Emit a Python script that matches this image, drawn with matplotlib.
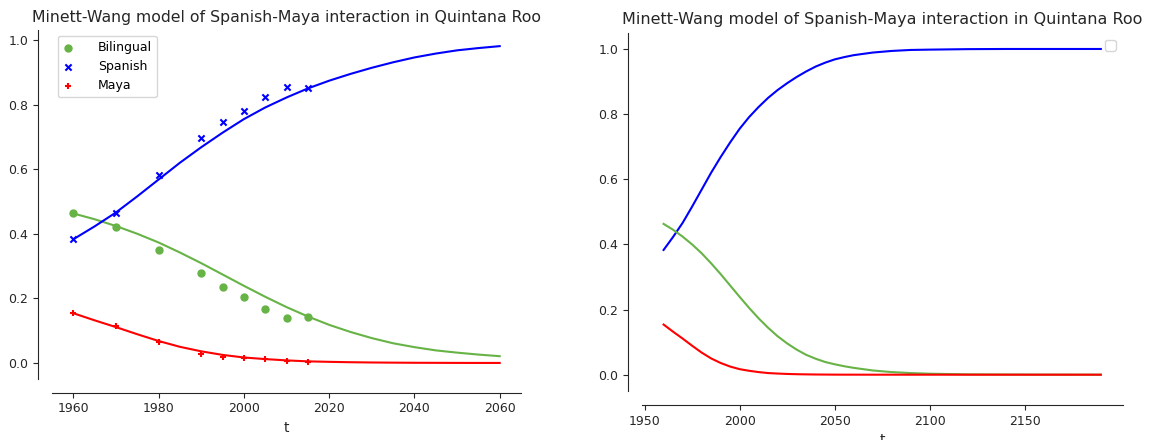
import matplotlib
matplotlib.use("Agg")
import matplotlib.pyplot as plt
import numpy as np

# ---- observed data (census years) ----
years_obs = [1960, 1970, 1980, 1990, 1995, 2000, 2005, 2010, 2015]
bilingual_obs = [0.464, 0.421, 0.350, 0.279, 0.235, 0.204, 0.167, 0.139, 0.142]
spanish_obs = [0.384, 0.464, 0.582, 0.697, 0.746, 0.780, 0.824, 0.854, 0.851]
maya_obs = [0.155, 0.115, 0.065, 0.028, 0.019, 0.015, 0.012, 0.006, 0.003]

# ---- model curves ----
years_model = [1960, 1965, 1970, 1975, 1980, 1985, 1990, 1995, 2000, 2005,
               2010, 2015, 2020, 2025, 2030, 2035, 2040, 2045, 2050, 2055,
               2060, 2070, 2080, 2090, 2100, 2120, 2140, 2160, 2190]
spanish_model = [0.383, 0.423, 0.466, 0.516, 0.568, 0.620, 0.668, 0.713, 0.755, 0.791,
                 0.822, 0.850, 0.874, 0.895, 0.914, 0.931, 0.946, 0.958, 0.968, 0.975,
                 0.981, 0.989, 0.994, 0.997, 0.998, 0.9995, 1.0, 1.0, 1.0]
bilingual_model = [0.463, 0.445, 0.424, 0.400, 0.373, 0.342, 0.309, 0.274, 0.239, 0.205,
                   0.173, 0.144, 0.118, 0.096, 0.077, 0.061, 0.049, 0.039, 0.032, 0.026,
                   0.021, 0.013, 0.008, 0.005, 0.003, 0.001, 0.0005, 0.0002, 0.0]
maya_model = [0.154, 0.132, 0.111, 0.089, 0.068, 0.050, 0.036, 0.025, 0.017, 0.012,
              0.008, 0.005, 0.0035, 0.0023, 0.0015, 0.001, 0.0006, 0.0004, 0.0002, 0.0001,
              0.0001, 0.0, 0.0, 0.0, 0.0, 0.0, 0.0, 0.0, 0.0]

left_xticks = [1960, 1980, 2000, 2020, 2040, 2060]
right_xticks = [1950, 2000, 2050, 2100, 2150]
yticks = [0.0, 0.2, 0.4, 0.6, 0.8, 1.0]
title = "Minett-Wang model of Spanish-Maya interaction in Quintana Roo"

GREEN = "#67b346"
BLUE = "#0000ff"
RED = "#ff0000"
TXT = "#262626"

plt.rcParams["font.family"] = ["DejaVu Sans"]
plt.rcParams["xtick.labelsize"] = 9
plt.rcParams["ytick.labelsize"] = 9
plt.rcParams["xtick.color"] = TXT
plt.rcParams["ytick.color"] = TXT
plt.rcParams["axes.edgecolor"] = TXT

fig = plt.figure(figsize=(11.49, 4.40), dpi=100)
ax1 = fig.add_axes([0.04526, 0.1391, 0.4082, 0.7920])
ax2 = fig.add_axes([0.5585, 0.1114, 0.4186, 0.8143])


def style(ax, tsize):
    for s in ["top", "right"]:
        ax.spines[s].set_visible(False)
    for s in ["left", "bottom"]:
        ax.spines[s].set_position(("outward", 10))
    ax.set_yticks(yticks)
    ax.set_xlabel("t", fontsize=10, color=TXT)
    ax.set_title(title, fontsize=tsize, color=TXT)


ym = np.array(years_model)
mask = ym <= 2060

ax1.scatter(years_obs, bilingual_obs, s=25, marker="o", color=GREEN, label="Bilingual")
ax1.scatter(years_obs, spanish_obs, s=20, marker="x", color=BLUE, label="Spanish")
ax1.scatter(years_obs, maya_obs, s=20, marker="+", color=RED, label="Maya")
ax1.plot(ym[mask], np.array(bilingual_model)[mask], color=GREEN, lw=1.5)
ax1.plot(ym[mask], np.array(spanish_model)[mask], color=BLUE, lw=1.5)
ax1.plot(ym[mask], np.array(maya_model)[mask], color=RED, lw=1.5)
ax1.set_xlim(1955, 2065)
ax1.set_ylim(-0.049, 1.03)
ax1.set_xticks(left_xticks)
style(ax1, 11.3)
ax1.legend(loc="upper left", fontsize=9, scatterpoints=1,
           handlelength=0.8, handletextpad=2.0, borderaxespad=0.45)

ax2.plot(years_model, spanish_model, color=BLUE, lw=1.5)
ax2.plot(years_model, bilingual_model, color=GREEN, lw=1.5)
ax2.plot(years_model, maya_model, color=RED, lw=1.5)
ax2.set_xlim(1948.5, 2201.5)
ax2.set_ylim(-0.05, 1.05)
ax2.set_xticks(right_xticks)
style(ax2, 11.5)
ax2.legend(handles=[], loc="upper right")

fig.savefig("out.png", dpi=100)
